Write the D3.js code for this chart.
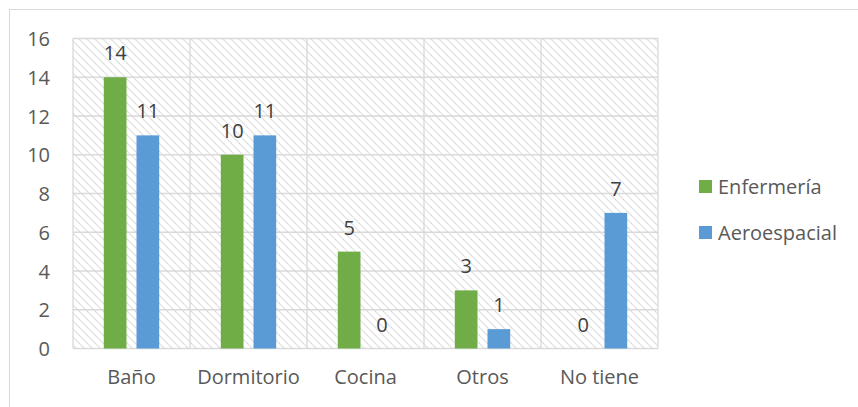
<!DOCTYPE html>
<html><head><meta charset="utf-8">
<script src="https://cdn.jsdelivr.net/npm/d3@7/dist/d3.min.js"></script>
<style>body{margin:0;background:#fff}svg{display:block}</style>
</head><body>
<svg id="c" width="858" height="407"></svg>
<script>
const categories = ["Baño", "Dormitorio", "Cocina", "Otros", "No tiene"];
const seriesNames = ["Enfermería", "Aeroespacial"];
const enfermeria = [14, 10, 5, 3, 0];
const aeroespacial = [11, 11, 0, 1, 7];
const yTicks = [0, 2, 4, 6, 8, 10, 12, 14, 16];
const colors = ["#70ad47", "#5b9bd5"];

const svg = d3.select("#c");
const font = "'Open Sans', sans-serif";
const fs = 20;
const m = {left: 73, right: 658, top: 38.5, bottom: 348.5};

svg.append("rect").attr("x", 9.5).attr("y", 9.5).attr("width", 860).attr("height", 420)
  .attr("fill", "#fff").attr("stroke", "#d9d9d9").attr("stroke-width", 1);

const defs = svg.append("defs");
const pat = defs.append("pattern").attr("id", "hatch").attr("patternUnits", "userSpaceOnUse")
  .attr("width", 8).attr("height", 8);
pat.append("path").attr("d", "M-2,-2 L10,10 M-2,6 L2,10 M6,-2 L10,2")
  .attr("stroke", "#cfcfcf").attr("stroke-width", 1.2).attr("stroke-dasharray", "1.2,0.6");

const x0 = d3.scaleBand().domain(categories).range([m.left, m.right]);
const x1 = d3.scaleBand().domain(seriesNames).range([0, x0.bandwidth()]).paddingInner(0.306).paddingOuter(0.942);
const y = d3.scaleLinear().domain([0, 16]).range([m.bottom, m.top]);

svg.append("rect").attr("x", m.left).attr("y", m.top).attr("width", m.right - m.left)
  .attr("height", m.bottom - m.top).attr("fill", "url(#hatch)");

const grid = svg.append("g").attr("stroke", "#d9d9d9").attr("stroke-width", 1.3);
yTicks.forEach(t => {
  grid.append("line").attr("x1", m.left).attr("x2", m.right).attr("y1", y(t)).attr("y2", y(t));
});
categories.concat([null]).forEach((c, i) => {
  const xx = m.left + i * x0.step();
  grid.append("line").attr("x1", xx).attr("x2", xx).attr("y1", m.top).attr("y2", m.bottom);
});

const yAxis = d3.axisLeft(y).tickValues(yTicks).tickSize(0).tickPadding(0);
const ya = svg.append("g").attr("transform", `translate(50,0)`).call(yAxis);
ya.select(".domain").remove();
ya.selectAll("text").attr("font-family", font).attr("font-size", fs).attr("fill", "#595959").attr("dy", "0.35em");

const xAxis = d3.axisBottom(x0).tickSize(0).tickPadding(0);
const xa = svg.append("g").attr("transform", `translate(0,370)`).call(xAxis);
xa.select(".domain").remove();
xa.selectAll("text").attr("font-family", font).attr("font-size", fs).attr("fill", "#595959").attr("dy", "0.7em");

const series = [enfermeria, aeroespacial];
series.forEach((vals, si) => {
  const g = svg.append("g");
  categories.forEach((c, ci) => {
    const v = vals[ci];
    const bx = x0(c) + x1(seriesNames[si]);
    g.append("rect").attr("x", bx).attr("y", y(v)).attr("width", x1.bandwidth())
      .attr("height", y(0) - y(v)).attr("fill", colors[si]);
    g.append("text").attr("x", bx + x1.bandwidth() / 2).attr("y", y(v) - 17)
      .attr("text-anchor", "middle").attr("font-family", font).attr("font-size", fs)
      .attr("fill", "#404040").text(v);
  });
});

const leg = svg.append("g");
seriesNames.forEach((n, i) => {
  const cy = 187 + i * 46;
  leg.append("rect").attr("x", 699).attr("y", cy - 7).attr("width", 13).attr("height", 13).attr("fill", colors[i]);
  leg.append("text").attr("x", 718).attr("y", cy).attr("dy", "0.35em").attr("font-family", font)
    .attr("font-size", fs).attr("fill", "#595959").text(n);
});
</script>
</body></html>
